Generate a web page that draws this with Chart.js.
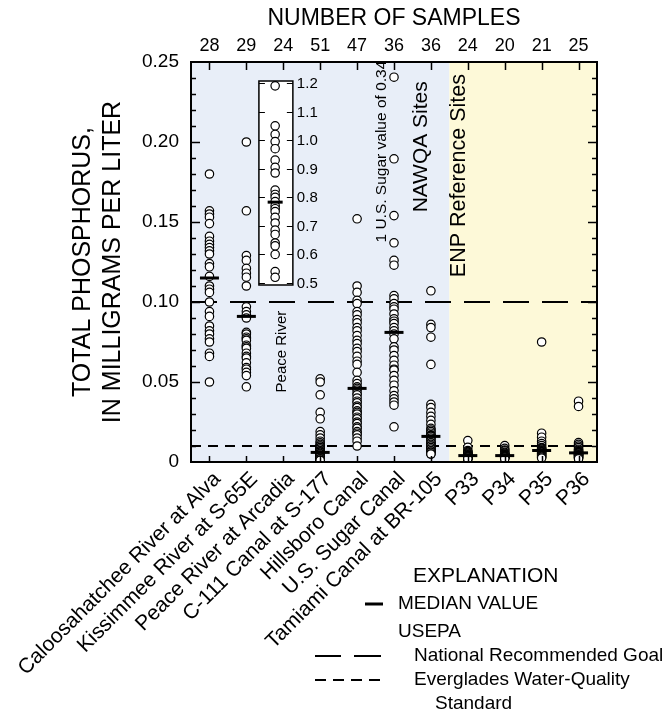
<!DOCTYPE html>
<html><head><meta charset="utf-8">
<script src="https://cdn.jsdelivr.net/npm/chart.js@4/dist/chart.umd.min.js"></script>
<style>html,body{margin:0;padding:0;background:#fff}canvas{display:block}</style>
</head><body>
<canvas id="c" width="666" height="713"></canvas>
<script>
// ---------------- DATA ----------------
const categories = ["Caloosahatchee River at Alva","Kissimmee River at S-65E","Peace River at Arcadia","C-111 Canal at S-177","Hillsboro Canal","U.S. Sugar Canal","Tamiami Canal at BR-105","P33","P34","P35","P36"];
const sampleCounts = [28,29,24,51,47,36,36,24,20,21,25];

const caloosahatcheeAlva = [0.180,0.157,0.155,0.153,0.149,0.141,0.138,0.136,0.134,0.132,0.130,0.124,0.122,0.116,0.110,0.108,0.106,0.100,0.094,0.091,0.085,0.082,0.080,0.077,0.075,0.068,0.066,0.050];
const kissimmeeS65E = [0.200,0.157,0.129,0.126,0.121,0.118,0.1155,0.110,0.097,0.094,0.092,0.090,0.081,0.080,0.078,0.077,0.076,0.073,0.072,0.071,0.068,0.066,0.065,0.062,0.059,0.058,0.056,0.054,0.047];
const peaceRiverArcadia = [1.19,1.05,1.02,0.995,0.97,0.93,0.905,0.885,0.825,0.81,0.80,0.785,0.77,0.76,0.75,0.73,0.71,0.685,0.67,0.64,0.63,0.60,0.54,0.52];
const c111S177 = [0.052,0.050,0.042,0.031,0.027,0.019,0.017,0.015,0.013,0.012,0.011,0.010,0.010,0.009,0.009,0.008,0.008,0.008,0.007,0.007,0.007,0.007,0.006,0.006,0.006,0.006,0.006,0.005,0.005,0.005,0.005,0.005,0.005,0.004,0.004,0.004,0.004,0.004,0.003,0.003,0.003,0.003,0.003,0.002,0.002,0.002,0.002,0.002,0.001,0.001,0.001];
const hillsboroCanal = [0.152,0.110,0.106,0.101,0.099,0.094,0.092,0.089,0.087,0.084,0.082,0.079,0.076,0.074,0.071,0.069,0.066,0.063,0.061,0.056,0.051,0.049,0.047,0.046,0.045,0.043,0.042,0.040,0.038,0.037,0.035,0.034,0.032,0.031,0.030,0.028,0.027,0.025,0.024,0.022,0.021,0.019,0.018,0.017,0.015,0.013,0.010];
const usSugarCanal = [0.34,0.2405,0.1895,0.154,0.137,0.126,0.123,0.104,0.102,0.099,0.097,0.0955,0.0925,0.0895,0.088,0.0865,0.084,0.082,0.080,0.077,0.072,0.070,0.0665,0.0635,0.0605,0.058,0.0575,0.054,0.051,0.048,0.0445,0.0415,0.0395,0.0375,0.0355,0.022];
const tamiamiBR105 = [0.107,0.086,0.084,0.078,0.061,0.036,0.034,0.031,0.0285,0.026,0.0235,0.021,0.020,0.019,0.018,0.017,0.0165,0.016,0.016,0.015,0.014,0.013,0.012,0.012,0.011,0.010,0.010,0.009,0.008,0.008,0.007,0.007,0.006,0.006,0.005,0.005];
const p33 = [0.0134,0.0092,0.0072,0.0065,0.006,0.0055,0.005,0.005,0.0045,0.0045,0.004,0.004,0.004,0.004,0.0035,0.0035,0.003,0.003,0.003,0.0025,0.0025,0.002,0.002,0.002];
const p34 = [0.0103,0.0085,0.0075,0.007,0.006,0.0055,0.005,0.005,0.0045,0.0043,0.0043,0.004,0.0035,0.0035,0.003,0.003,0.003,0.0025,0.0025,0.002];
const p35 = [0.075,0.018,0.0155,0.013,0.0115,0.0103,0.009,0.0085,0.008,0.0075,0.0072,0.007,0.0065,0.006,0.0055,0.005,0.0045,0.004,0.0035,0.003,0.0025];
const p36 = [0.038,0.0347,0.0121,0.011,0.010,0.009,0.008,0.0075,0.007,0.0065,0.006,0.006,0.0057,0.0055,0.005,0.005,0.0045,0.0045,0.004,0.004,0.0035,0.003,0.003,0.0025,0.002];

const medianValues = [0.115,0.091,null,0.006,0.046,0.081,0.016,0.004,0.004,0.0072,0.0057];
const peaceRiverMedian = 0.783;

const yTickValues = [0,0.05,0.10,0.15,0.20,0.25];
const insetTickValues = [0.5,0.6,0.7,0.8,0.9,1.0,1.1,1.2];
const nationalGoal = 0.10;
const evergladesStandard = 0.01;

// ---------------- LAYOUT CONSTANTS ----------------
const FONT = "'Liberation Sans', Arial, Helvetica, sans-serif";
const X_MIN = 0.5, X_MAX = 11.5;
const INSET_Y_MIN = -0.1265, INSET_Y_MAX = 1.2735;
const INSET_X = 2.78;
const INSET_BOX = {x0: 2.34, x1: 3.26, y0: 0.493, y1: 1.207};
const shading = [{from: 0.5, to: 7.5, color: '#e8eef8'}, {from: 7.5, to: 11.5, color: '#fdf9d8'}];

const mainSeries = [caloosahatcheeAlva, kissimmeeS65E, null, c111S177, hillsboroCanal, usSugarCanal, tamiamiBR105, p33, p34, p35, p36];
const samplePoints = [];
mainSeries.forEach((vals, i) => { if (vals) vals.forEach(v => samplePoints.push({x: i + 1, y: v})); });
const medianPoints = [];
medianValues.forEach((v, i) => { if (v !== null) medianPoints.push({x: i + 1, y: v}); });

const decorations = {
  id: 'decorations',
  beforeDatasetsDraw(chart) {
    const {ctx, chartArea: a, scales: {x, yInset}} = chart;
    ctx.save();
    shading.forEach(s => {
      const l = x.getPixelForValue(s.from), r = x.getPixelForValue(s.to);
      ctx.fillStyle = s.color;
      ctx.fillRect(l, a.top, r - l, a.bottom - a.top);
    });
    const bx0 = x.getPixelForValue(INSET_BOX.x0), bx1 = x.getPixelForValue(INSET_BOX.x1);
    const by0 = yInset.getPixelForValue(INSET_BOX.y1), by1 = yInset.getPixelForValue(INSET_BOX.y0);
    ctx.fillStyle = '#fff';
    ctx.fillRect(bx0, by0, bx1 - bx0, by1 - by0);
    ctx.restore();
  },
  afterDatasetsDraw(chart) {
    const {ctx, chartArea: a, scales: {x, y, yInset}} = chart;
    ctx.save();
    ctx.strokeStyle = '#000';
    const bx0 = x.getPixelForValue(INSET_BOX.x0), bx1 = x.getPixelForValue(INSET_BOX.x1);
    const by0 = yInset.getPixelForValue(INSET_BOX.y1), by1 = yInset.getPixelForValue(INSET_BOX.y0);
    ctx.lineWidth = 1.5;
    ctx.strokeRect(bx0, by0, bx1 - bx0, by1 - by0);
    ctx.lineWidth = 1.2;
    ctx.fillStyle = '#000';
    ctx.font = '15px ' + FONT;
    ctx.textAlign = 'left'; ctx.textBaseline = 'middle';
    insetTickValues.forEach(v => {
      const py = Math.round(yInset.getPixelForValue(v)) + 0.5;
      ctx.beginPath();
      ctx.moveTo(bx1, py); ctx.lineTo(bx1 - 6, py);
      ctx.moveTo(bx0, py); ctx.lineTo(bx0 + 6, py);
      ctx.stroke();
      ctx.fillText(v.toFixed(1), bx1 + 4, py);
    });
    ctx.lineWidth = 2;
    ctx.strokeRect(a.left, a.top, a.right - a.left, a.bottom - a.top);
    ctx.lineWidth = 1.5;
    for (let k = 1; k < 25; k++) {
      const py = Math.round(y.getPixelForValue(k / 100)) + 0.5;
      const len = (k % 5 === 0) ? 9 : 5;
      ctx.beginPath();
      ctx.moveTo(a.left, py); ctx.lineTo(a.left + len, py);
      ctx.moveTo(a.right, py); ctx.lineTo(a.right - len, py);
      ctx.stroke();
    }
    categories.forEach((c, i) => {
      const px = Math.round(x.getPixelForValue(i + 1)) + 0.5;
      ctx.beginPath();
      ctx.moveTo(px, a.top); ctx.lineTo(px, a.top + 8);
      ctx.moveTo(px, a.bottom); ctx.lineTo(px, a.bottom - 6);
      ctx.stroke();
    });
    const vtext = (txt, px, py, size) => {
      ctx.save();
      ctx.translate(px, py);
      ctx.rotate(-Math.PI / 2);
      ctx.font = size + 'px ' + FONT;
      ctx.textAlign = 'center'; ctx.textBaseline = 'middle';
      ctx.fillStyle = '#000';
      ctx.fillText(txt, 0, 0);
      ctx.restore();
    };
    vtext('Peace River', x.getPixelForValue(2.95), y.getPixelForValue(0.069), 15);
    vtext('1 U.S. Sugar value of 0.34', x.getPixelForValue(5.68), y.getPixelForValue(0.194), 15.5);
    vtext('NAWQA Sites', x.getPixelForValue(6.75), y.getPixelForValue(0.197), 21);
    vtext('ENP Reference Sites', x.getPixelForValue(7.77), y.getPixelForValue(0.179), 21.5);
    ctx.restore();
  },
  afterDraw(chart) {
    const {ctx} = chart;
    ctx.save();
    ctx.fillStyle = '#000'; ctx.strokeStyle = '#000';
    ctx.textAlign = 'left'; ctx.textBaseline = 'middle';
    ctx.font = '21px ' + FONT;
    ctx.fillText('EXPLANATION', 413, 576);
    ctx.font = '19px ' + FONT;
    ctx.lineWidth = 3;
    ctx.beginPath(); ctx.moveTo(365, 604); ctx.lineTo(383, 604); ctx.stroke();
    ctx.fillText('MEDIAN VALUE', 398, 604);
    ctx.fillText('USEPA', 398, 632);
    ctx.lineWidth = 2;
    ctx.beginPath();
    ctx.moveTo(315, 656); ctx.lineTo(341, 656);
    ctx.moveTo(354, 656); ctx.lineTo(381, 656);
    ctx.stroke();
    ctx.fillText('National Recommended Goal', 414, 656);
    ctx.beginPath();
    for (let sx = 315; sx < 380; sx += 18) { ctx.moveTo(sx, 680); ctx.lineTo(sx + 11, 680); }
    ctx.stroke();
    ctx.fillText('Everglades Water-Quality', 414, 680);
    ctx.fillText('Standard', 435, 704);
    ctx.restore();
  }
};

Chart.defaults.color = '#000';
Chart.defaults.font.family = FONT;

new Chart(document.getElementById('c'), {
  type: 'scatter',
  data: {
    datasets: [
      {type: 'line', data: [{x: X_MIN, y: nationalGoal}, {x: X_MAX, y: nationalGoal}], borderColor: '#000', borderWidth: 2, borderDash: [26, 13], pointRadius: 0, order: 10},
      {type: 'line', data: [{x: X_MIN, y: evergladesStandard}, {x: X_MAX, y: evergladesStandard}], borderColor: '#000', borderWidth: 2, borderDash: [10, 7], pointRadius: 0, order: 10},
      {data: samplePoints, pointStyle: 'circle', pointRadius: 4.2, borderWidth: 1.2, borderColor: '#000', backgroundColor: '#fff', order: 3},
      {data: peaceRiverArcadia.map(v => ({x: INSET_X, y: v})), yAxisID: 'yInset', pointStyle: 'circle', pointRadius: 4.2, borderWidth: 1.2, borderColor: '#000', backgroundColor: '#fff', order: 3},
      {data: medianPoints, pointStyle: 'line', pointRadius: 9.5, borderWidth: 3, borderColor: '#000', order: 1},
      {data: [{x: INSET_X, y: peaceRiverMedian}], yAxisID: 'yInset', pointStyle: 'line', pointRadius: 7.5, borderWidth: 3, borderColor: '#000', order: 1}
    ]
  },
  options: {
    responsive: false, animation: false, devicePixelRatio: 1,
    layout: {padding: {left: 0, right: 69, top: 0, bottom: 0}},
    plugins: {legend: {display: false}, tooltip: {enabled: false}},
    scales: {
      x: {
        type: 'linear', position: 'bottom', min: X_MIN, max: X_MAX,
        grid: {display: false, drawTicks: false}, border: {display: false},
        afterBuildTicks: s => { s.ticks = categories.map((c, i) => ({value: i + 1})); },
        ticks: {autoSkip: false, minRotation: 45, maxRotation: 45, padding: 5, labelOffset: 8, font: {size: 21},
          callback: v => categories[v - 1]},
        afterFit: s => { s.height = 251; }
      },
      xTop: {
        type: 'linear', position: 'top', min: X_MIN, max: X_MAX,
        grid: {display: false, drawTicks: false}, border: {display: false},
        afterBuildTicks: s => { s.ticks = sampleCounts.map((c, i) => ({value: i + 1})); },
        ticks: {autoSkip: false, maxRotation: 0, padding: 5, font: {size: 18},
          callback: v => String(sampleCounts[v - 1])},
        title: {display: true, text: 'NUMBER OF SAMPLES', font: {size: 23}, padding: {top: 5, bottom: 0}},
        afterFit: s => { s.height = 62; }
      },
      y: {
        type: 'linear', position: 'left', min: 0, max: 0.25,
        grid: {display: false, drawTicks: false}, border: {display: false},
        afterBuildTicks: s => { s.ticks = yTickValues.map(v => ({value: v})); },
        ticks: {padding: 12, font: {size: 19}, callback: v => v === 0 ? '0' : v.toFixed(2)},
        title: {display: true, text: ['TOTAL PHOSPHORUS,', 'IN MILLIGRAMS PER LITER'], font: {size: 25}, padding: {top: 68, bottom: 0}},
        afterFit: s => { s.width = 191; }
      },
      yInset: {type: 'linear', display: false, min: INSET_Y_MIN, max: INSET_Y_MAX}
    }
  },
  plugins: [decorations]
});
</script>
</body></html>
